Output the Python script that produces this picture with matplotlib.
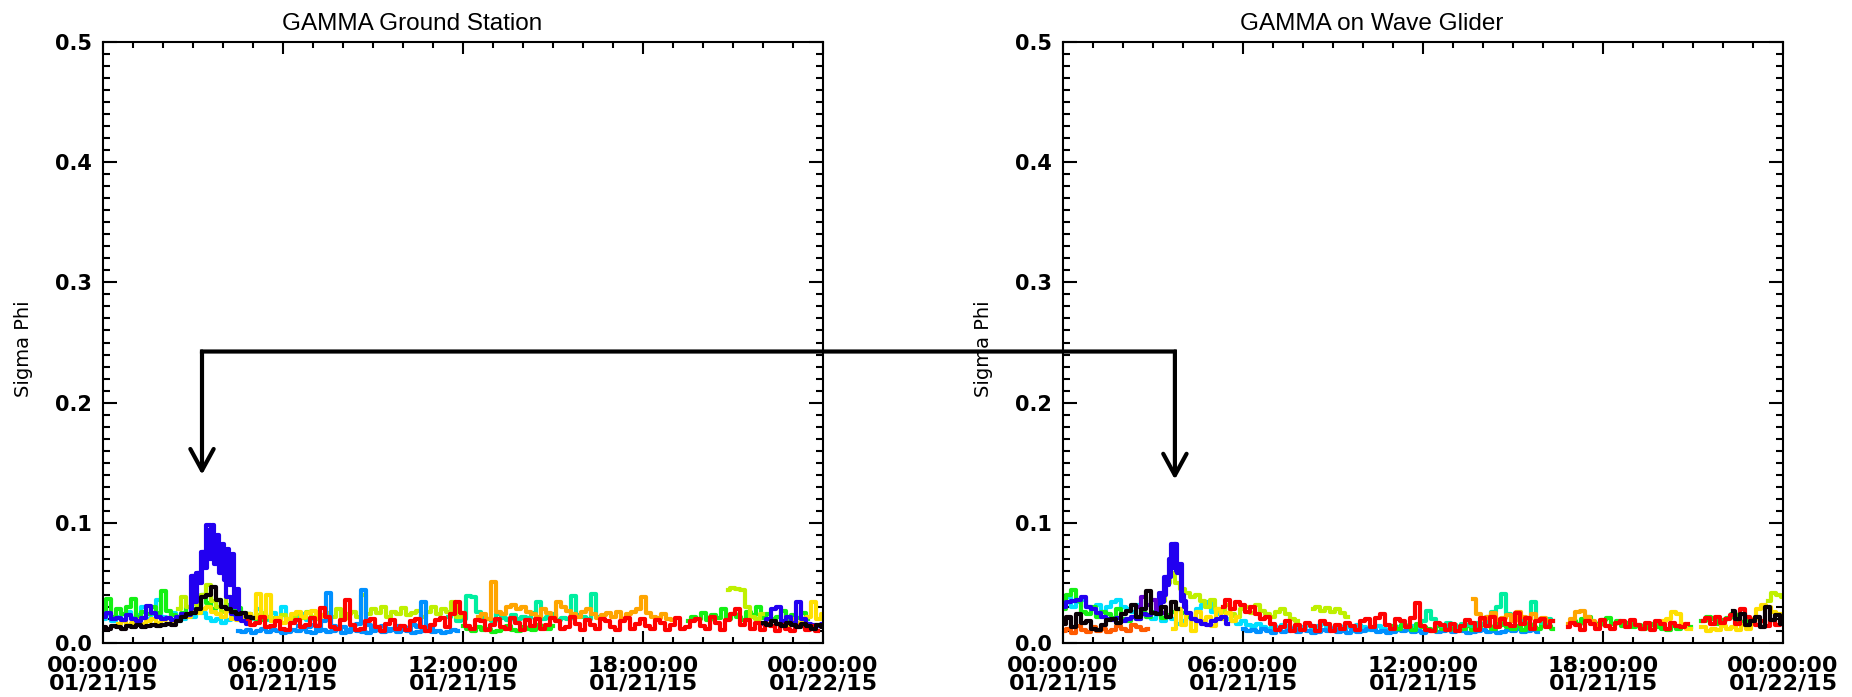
# Sigma Phi scintillation index, GAMMA ground station vs GAMMA on the wave glider

import numpy as np
import matplotlib
matplotlib.use("Agg")
import matplotlib.pyplot as plt
from matplotlib.patches import ConnectionPatch
from matplotlib.ticker import MultipleLocator

nan = np.nan

# --- data: sigma phi in units of 1e-3 ---
# most series are sampled every 10 minutes, the two peaks every 5 minutes
# ground station
gs_cyan = [20, 24, 18, 22, 19, 26, 21, 23, 30, 20, 24, 36, 22, 21, 25, 18, 20, 24, 22, 26, 25, 21,
           18, 20, 17, 19, 22, 25, 21, 24, 20, 28, 22, 19, 25, 21, 30, 20, 18, 22, 24, 19, 21]
gs_azure = [10, 9, 11, 8, 10, 12, 9, 11, 10, 8, 9, 11, 10, 12, 9, 8, 10, 11, 9, 10, 12, 8, 9,
            11, 10, 9, 8, 10, 11, 9, 10, 12, 9, 11, 10, 8, 9, 10, 11, 9, 10, 8, 9, 11, 10]
gs_green_a = [26, 37, 22, 28, 24, 30, 37, 22, 26, 24, 30, 25, 43, 27, 23, 22, 25, 30, 28, 26, 40,
              33, 28, 36, 30, 32, 27, 29, 25, 24, 21, 20, 19, 22, 18]
gs_green_b = [14, 12, 10, 13, 11, 12, 9, 10, 12, 14, 11, 10, 13, 12, 11, 15, 13, 12, 14]
gs_green_c = [18, 22, 20, 25, 19, 23, 21, 28, 20, 24, 22, 19, 26, 23, 30, 21, 24, 20, 22, 27, 19,
              23, 21, 25, 20]
gs_teal = [22, 25, 18, 20, 39, 38, 26, 22, 20, 18, 24, 21, 19, 23, 20, 22, 21, 25, 34, 20, 22, 24,
           19, 21, 20, 39, 23, 22, 20, 41, 22]
gs_lime_a = [28, 38, 30, 34, 32, 40, 48, 35, 30, 26, 38, 24, 22, 20, 24, 21, 23, 25, 22, 21, 19,
             23, 20, 22, 24, 21, 26, 22, 20, 23, 25, 22, 28, 20, 24, 26, 22, 40, 24, 28, 25, 30,
             22, 26, 24, 29, 23, 25, 27, 22, 26, 30, 24, 28, 26, 34, 22, 25]
gs_lime_b = [44, 46, 45, 44, 30, 22, 20, 24]
gs_yellow_a = [16, 18, 15, 17, 19, 16, 18, 20, 17, 19, 21, 18, 20, 23, 22, 26, 25, 28, 30, 26, 24,
               22, 27, 20, 19, 22, 24, 21, 41, 22, 40, 18, 21, 17, 20, 24, 26, 22, 25, 27, 21, 23]
gs_yellow_b = [16, 18, 15, 20, 17, 19, 22, 34, 20, 24]
gs_orange = [22, 24, 20, 51, 26, 24, 30, 32, 28, 30, 26, 24, 22, 28, 25, 21, 34, 30, 27, 24, 22,
             26, 28, 24, 21, 23, 25, 22, 26, 20, 24, 26, 28, 38, 25, 22, 21, 24, 20, 19]
gs_blue_a = [22, 25, 20, 21, 19, 23, 20, 18, 21, 31, 25, 22, 20, 21, 19, 22, 24, 23, 56, 58, 76,
             98, 84, 76, 70, 38, 24, 20, 18, 16]
gs_blue_peak = [28, 56, 34, 58, 50, 76, 62, 94, 70, 98, 66, 90, 58, 82, 52, 78, 48, 74, 30, 45,
                22]
gs_blue_b = [14, 12, 13, 15, 12, 18, 42, 14, 12, 13, 11, 15, 16, 44, 15, 12, 13, 14, 12, 11, 14,
             13, 12, 15, 13, 34, 14, 12]
gs_blue_c = [16, 20, 28, 30, 18, 22, 17, 34, 20, 16, 15, 14, 16]
gs_red = [20, 15, 17, 22, 13, 14, 18,
          12, 11, 17, 19, 13, 15, 21, 14, 29, 22, 13, 12, 19, 36, 15, 11, 12, 18,
          20, 13, 10, 16, 19, 12, 14, 11, 18, 20, 13, 10, 15, 19, 21, 13, 24, 34,
          25, 14, 12, 19, 18, 11, 15, 20, 13, 12, 21, 17, 11, 19, 14, 20, 12, 15,
          21, 18, 12, 13, 22, 16, 11, 19, 15, 12, 20, 18, 13, 11, 18, 21, 12, 16,
          20, 14, 12, 19, 17, 11, 15, 21, 12, 13, 18, 20, 14, 12, 22, 17, 11, 19,
          24, 28, 15, 19, 12, 17, 11, 16, 14, 10, 15, 12, 10, 13, 15, 11, 14, 10]
gs_black_a = [13, 12, 14, 13, 12, 14, 13, 15, 13, 14, 15, 14, 15, 16, 15, 18, 22, 24, 25, 28, 38,
              40, 47, 36, 30, 28, 26, 24, 25, 22, 21]
gs_black_b = [17, 15, 18, 16, 14, 17, 15, 13, 16, 14, 12, 15, 13]

# wave glider (no data anywhere 16.5-16.8 h and 21.0-21.3 h)
wg_cyan = [32, 38, 30, 34, 36, 30, 28, 32, 26, 30, 34, 36, 30, 28, 26, 32, 24, 22, 20, 24, 18, 22,
           20, 16, 18, 22, 20, 28, 32, 34, 26, 24, 22, 20, 18, 16, 18, 15, 14, 16, 13, 12, 14, 12,
           15, 13, 11, 12, 13, 15, 12, 14, 16, 13, 12, 14, 11, 13, 10, 15, 13, 11, 12, 14, 12, 10,
           12, 13, 15, 11, 14, 12]
wg_azure = [12, 10, 11, 9, 12, 10, 8, 11, 9, 10, 12, 9, 11, 10, 8, 9, 11, 10, 12, 9, 10, 8, 11, 9,
            10, 12, 11, 9, 10, 8, 9, 11, 10, 12, 9, 10, 8, 10, 11, 9, 10, 12, 9, 11, 10, 8, 9, 10,
            11, 9, 10, 8, 9, 11, 10, 12, 9, 10, 11, 9]
wg_green_a = [28, 40, 44, 35, 26, 24, 30, 22, 26, 24, 21, 28, 20, 18, 22, 20, 25, 22, 26, 24, 21,
              23, 26, 28, 25, 22, 20, 18]
wg_green_b = [14, 12, 15, 13, 11, 16, 13, 12, 10, 14, 12, 11, 15, 13, 12, 14, 11, 13, 16, 14, 12,
              18, 15, 13, 12, 14, 11, 16, 13, 12, 15, 14, 12]
wg_green_c = [18, 16, 20, 22, 17, 15, 19, 21, 16, 18, 14, 17, 13, 15, 12, 14, 16, 13, 12, 11, 14,
              12, 15, 13, nan, nan, 18, 22, 20, 16, 19, 21, 24, 18, 17, 20]
wg_teal = [18, 27, 20, 16, 14, 17, 15, 13, 16, 15, 14, 17, 16, 22, 26, 30, 41, 24, 22, 20, 18, 21,
           34, 19, 17, 20, 18]
wg_lime_a = [35, 50, 58, 50, 45, 42, 38, 40, 35, 30, 36, 28, 26, 32, 24, 22, 28, 30, 25, 32, 27,
             24, 22, 26, 28, 24, 20, 18]
wg_lime_b = [28, 30, 27, 29, 26, 28, 25, 22]
wg_lime_c = [35, 42, 40, 38]
wg_yellow_a = [12, 28, 15, 24, 10, 26, 18, 22, 14, 28, 20, 25, 18, 22]
wg_yellow_b = [18, 20, 26, 24, 16, 12, nan, nan, 13, 10, 12, 11, 14, 12, 13, 11, 15, 12, 20, 28,
               32, 30, 26, 24, 20]
wg_orange_a = [10, 12, 8, 14, 11, 9, 13, 10, 12, 9, 11, 14, 12, 10, 15, 13, 11, 12]
wg_orange_b = [37, 24, 20, 22, 25, 19, 21, 23, 18, 26, 22, 20, 24, 19, 21, 18]
wg_orange_c = [16, 20, 26, 27, 22, 18, 15]
wg_blue = [30, 34, 35, 36, 38, 30, 28, 25, 22, 20, 19, 21, 18, 20, 22, 20, 24, 23, 25, 27, 40, 55,
           82, 60, 35, 25, 20, 18, 16, 15, 18, 20, 22, 16]
wg_blue_peak = [30, 42, 34, 55, 48, 70, 62, 82, 58, 66, 40, 30]
wg_purple = [30, 38, 32, 36, 28, 25]
wg_red_a = [30, 36, 28, 34,
            32, 26, 30, 24, 20, 22, 16, 11, 13, 18, 10, 15, 11, 17, 14, 10, 18, 16,
            10, 15, 12, 17, 14, 11, 18, 20, 13, 21, 24, 15, 12, 20, 18, 13, 21, 33,
            14, 11, 10, 17, 15, 11, 16, 10, 14, 19, 17, 11, 21, 14, 22, 13, 20, 16,
            14, 25, 16, 21, 12, 18, 20, 13, 18]
wg_red_b = [13, 17, 15, 11, 18, 16, 12, 19, 14, 12, 17, 18, 13, 19, 15, 12, 17, 11, 18, 16, 12,
            17, 14, 13, 16]
wg_red_c = [18, 21, 16, 22, 17, 20, 23, 16, 28, 22, 19, 15, 18, 14, 19, 15, 17]
wg_black_a = [16, 22, 13, 24, 17, 18, 12, 11, 15, 19, 20, 17, 24, 27, 32, 22, 28, 43, 25, 24, 30,
              22, 34, 28]
wg_black_b = [27, 20, 24, 15, 18, 22, 13, 30, 19, 23, 16]

xtick_hours = [0, 6, 12, 18, 24]
xtick_labels = ["00:00:00\n01/21/15", "06:00:00\n01/21/15", "12:00:00\n01/21/15",
                "18:00:00\n01/21/15", "00:00:00\n01/22/15"]

colors = {"cyan": "#00e0ff", "azure": "#0090ff", "green": "#14f014", "teal": "#00eea0",
          "lime": "#bff000", "yellow": "#ffe000", "orange": "#ffa500", "orangered": "#ff5a00",
          "blue": "#2200f0", "purple": "#6000d0", "red": "#ff0000", "black": "#0a0006"}

# (values, start hour, samples per hour, colour) in drawing order
gs_series = [(gs_cyan, 0.0, 6, "cyan"), (gs_azure, 4.5, 6, "azure"),
             (gs_green_a, 0.0, 6, "green"), (gs_green_b, 12.0, 6, "green"),
             (gs_green_c, 19.5, 6, "green"), (gs_teal, 11.5, 6, "teal"),
             (gs_lime_a, 2.5, 6, "lime"), (gs_lime_b, 20.83, 6, "lime"),
             (gs_yellow_a, 0.5, 6, "yellow"), (gs_yellow_b, 22.5, 6, "yellow"),
             (gs_orange, 12.5, 6, "orange"), (gs_blue_a, 0.0, 6, "blue"),
             (gs_blue_peak, 2.92, 12, "blue"), (gs_blue_b, 6.5, 6, "azure"),
             (gs_blue_c, 22.0, 6, "blue"), (gs_red, 4.83, 6, "red"),
             (gs_black_a, 0.0, 6, "black"), (gs_black_b, 22.0, 6, "black")]
wg_series = [(wg_cyan, 0.0, 6, "cyan"), (wg_azure, 6.0, 6, "azure"),
             (wg_green_a, 0.0, 6, "green"), (wg_green_b, 11.0, 6, "green"),
             (wg_green_c, 17.0, 6, "green"), (wg_teal, 12.0, 6, "teal"),
             (wg_lime_a, 3.33, 6, "lime"), (wg_lime_b, 8.33, 6, "lime"),
             (wg_lime_c, 23.5, 6, "lime"), (wg_yellow_a, 3.67, 6, "yellow"),
             (wg_yellow_b, 20.0, 6, "yellow"), (wg_orange_a, 0.0, 6, "orangered"),
             (wg_orange_b, 13.67, 6, "orange"), (wg_orange_c, 16.83, 6, "orange"),
             (wg_blue, 0.0, 6, "blue"), (wg_blue_peak, 3.17, 12, "blue"),
             (wg_purple, 2.5, 6, "purple"), (wg_red_a, 5.33, 6, "red"),
             (wg_red_b, 16.83, 6, "red"), (wg_red_c, 21.33, 6, "red"),
             (wg_black_a, 0.0, 6, "black"), (wg_black_b, 22.33, 6, "black")]

plt.rcParams["font.family"] = ["DejaVu Sans"]

W, H = 1852, 697
fig = plt.figure(figsize=(W / 100, H / 100), dpi=100)


def draw_panel(left_px, series, title):
    ax = fig.add_axes([left_px / W, 1 - 643 / H, 720 / W, 601 / H])
    for vals, start, per_hour, cname in series:
        v = np.array(vals, dtype=float) / 1000.0
        t = start + np.arange(len(v)) / per_hour
        ax.step(t, v, where="mid", color=colors[cname], lw=3.0)
    ax.set_xlim(0, 24)
    ax.set_ylim(0, 0.5)
    ax.set_xticks(xtick_hours)
    ax.set_xticklabels(xtick_labels, fontsize=16, fontweight="bold", linespacing=0.9)
    ax.xaxis.set_minor_locator(MultipleLocator(1))
    ax.set_yticks(np.arange(0, 0.51, 0.1))
    ax.set_yticklabels([f"{y:.1f}" for y in np.arange(0, 0.51, 0.1)], fontsize=15,
                       fontweight="bold")
    ax.yaxis.set_minor_locator(MultipleLocator(0.01))
    ax.tick_params(axis="both", which="both", direction="in", top=True, right=True, width=1.5)
    ax.tick_params(axis="x", which="major", length=8.5, pad=9)
    ax.tick_params(axis="x", which="minor", length=4.5)
    ax.tick_params(axis="y", which="major", length=10, pad=8)
    ax.tick_params(axis="y", which="minor", length=5)
    for sp in ax.spines.values():
        sp.set_linewidth(1.5)
    ax.set_title(title, fontsize=17.5, pad=9, x=0.429, family="Liberation Sans")
    ax.set_ylabel("Sigma Phi", fontsize=14)
    ax.yaxis.set_label_coords(-0.097, 0.49)
    return ax


ax1 = draw_panel(103, gs_series, "GAMMA Ground Station")
ax2 = draw_panel(1063, wg_series, "GAMMA on Wave Glider")

# bracket arrow linking the two scintillation peaks
arrow_y = 0.2425
head = dict(arrowstyle="->, head_length=0.55, head_width=0.3", lw=3, color="black",
            mutation_scale=28, shrinkA=0, shrinkB=0)
ax1.annotate("", xy=(3.3, 0.14), xytext=(3.3, arrow_y), arrowprops=head, annotation_clip=False)
ax2.annotate("", xy=(3.73, 0.136), xytext=(3.73, arrow_y), arrowprops=head, annotation_clip=False)
link = ConnectionPatch(xyA=(3.3, arrow_y), coordsA=ax1.transData, xyB=(3.73, arrow_y),
                       coordsB=ax2.transData, lw=3, color="black", capstyle="projecting")
fig.add_artist(link)

fig.savefig("out.png", dpi=100)
